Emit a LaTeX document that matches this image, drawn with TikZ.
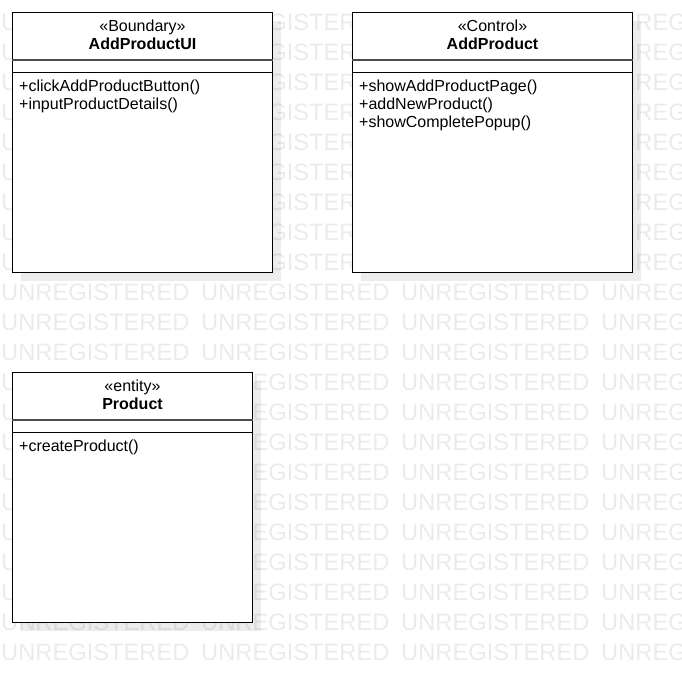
\documentclass[tikz,border=0pt]{standalone}
\usepackage{fontspec}
\setmainfont{Liberation Sans}
\usepackage{tikz}
\usetikzlibrary{shadows}

\begin{document}
\begin{tikzpicture}[
  x=1pt, y=-1pt,
  watermark/.style={font=\fontsize{23.7}{24}\selectfont, text=black!8, inner sep=0pt, anchor=base west},
  classbox/.style={rectangle, draw, fill=white, line width=1pt, inner sep=0pt, anchor=north west,
    drop shadow={shadow xshift=8pt, shadow yshift=-8pt, fill=black, opacity=0.07}},
  stereo/.style={font=\fontsize{16}{18}\selectfont, inner sep=0pt, anchor=base},
  classname/.style={font=\fontsize{16}{18}\selectfont\bfseries, inner sep=0pt, anchor=base},
  op/.style={font=\fontsize{16}{18}\selectfont, inner sep=0pt, anchor=base west},
  namesep/.style={draw=black!70, line width=1.6pt},
  opsep/.style={draw=black, line width=0.8pt},
]
  \useasboundingbox (0,0) rectangle (682,672);

  % background text
  \begin{scope}
    \clip (0,0) rectangle (682,672);
    \foreach \row in {0,...,21}
      \foreach \col in {0,...,3}
        \node[watermark] (wm-\row-\col) at (200*\col+1, 30.5+30*\row) {UNREGISTERED};
  \end{scope}

  % boundary class
  \node[classbox, minimum width=260pt, minimum height=260pt] (ui) at (12,12) {};
  \node[stereo] (uiStereo) at ([yshift=-19pt]ui.north) {«Boundary»};
  \node[classname] (uiName) at ([yshift=-37pt]ui.north) {AddProductUI};
  \draw[namesep] ([yshift=-48pt]ui.north west) -- ([yshift=-48pt]ui.north east);
  \draw[opsep] ([yshift=-60pt]ui.north west) -- ([yshift=-60pt]ui.north east);
  \node[op] (uiOp1) at ([xshift=7pt, yshift=-79pt]ui.north west) {+clickAddProductButton()};
  \node[op] (uiOp2) at ([xshift=7pt, yshift=-97pt]ui.north west) {+inputProductDetails()};

  % control class
  \node[classbox, minimum width=280pt, minimum height=260pt] (ctl) at (352,12) {};
  \node[stereo] (ctlStereo) at ([yshift=-19pt]ctl.north) {«Control»};
  \node[classname] (ctlName) at ([yshift=-37pt]ctl.north) {AddProduct};
  \draw[namesep] ([yshift=-48pt]ctl.north west) -- ([yshift=-48pt]ctl.north east);
  \draw[opsep] ([yshift=-60pt]ctl.north west) -- ([yshift=-60pt]ctl.north east);
  \node[op] (ctlOp1) at ([xshift=7pt, yshift=-79pt]ctl.north west) {+showAddProductPage()};
  \node[op] (ctlOp2) at ([xshift=7pt, yshift=-97pt]ctl.north west) {+addNewProduct()};
  \node[op] (ctlOp3) at ([xshift=7pt, yshift=-115pt]ctl.north west) {+showCompletePopup()};

  % entity class
  \node[classbox, minimum width=240pt, minimum height=250pt] (prod) at (12,372) {};
  \node[stereo] (prodStereo) at ([yshift=-19pt]prod.north) {«entity»};
  \node[classname] (prodName) at ([yshift=-37pt]prod.north) {Product};
  \draw[namesep] ([yshift=-48pt]prod.north west) -- ([yshift=-48pt]prod.north east);
  \draw[opsep] ([yshift=-60pt]prod.north west) -- ([yshift=-60pt]prod.north east);
  \node[op] (prodOp1) at ([xshift=7pt, yshift=-79pt]prod.north west) {+createProduct()};
\end{tikzpicture}
\end{document}
